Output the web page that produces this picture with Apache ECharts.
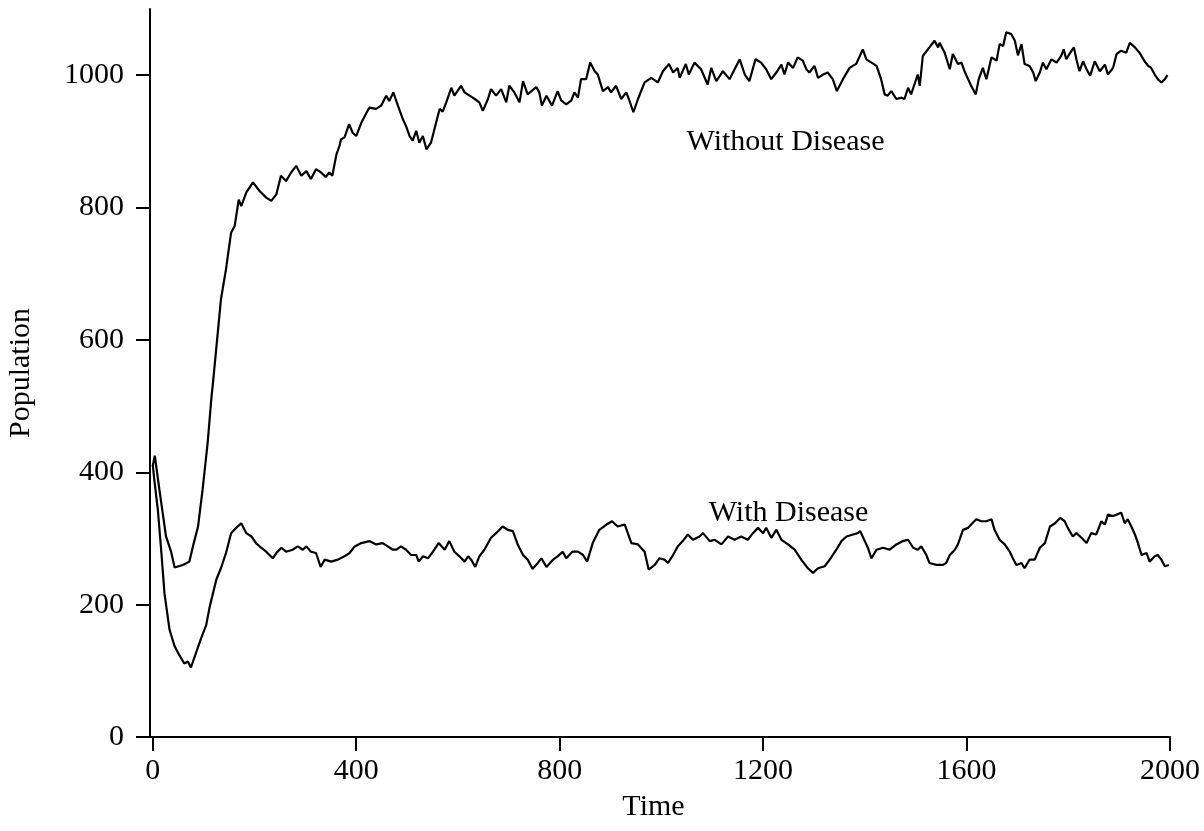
<!DOCTYPE html>
<html>
<head>
<meta charset="utf-8">
<script src="https://cdn.jsdelivr.net/npm/echarts@6/dist/echarts.min.js"></script>
<style>html,body{margin:0;padding:0;background:#fff}#chart{width:1204px;height:831px}</style>
</head>
<body>
<div id="chart"></div>
<script>
// Time ticks and population ticks
const xTicks = [0, 400, 800, 1200, 1600, 2000];
const yTicks = [0, 200, 400, 600, 800, 1000];

// [time, population] — population without disease
const withoutDisease = [
[0,410],[4,425],[13,374],[26,303],[36,280],[43,256],[59,260],[72,265],[79,288],[89,318],[98,374],[108,445],[115,510],[119,540],[134,661],[144,707],[154,762],[161,772],[169,812],[174,802],[184,823],[197,838],[210,825],[223,815],[233,810],[243,820],[252,848],[262,840],[272,853],[282,863],[292,848],[302,855],[311,843],[321,858],[331,853],[340,846],[347,853],[353,848],[361,880],[367,893],[370,903],[377,906],[386,926],[393,913],[400,908],[410,928],[420,943],[426,951],[439,949],[449,954],[459,969],[465,961],[473,974],[482,954],[492,933],[498,923],[505,908],[511,901],[518,916],[524,898],[531,908],[538,888],[547,898],[557,928],[564,949],[570,945],[577,959],[587,981],[593,969],[606,984],[613,974],[623,969],[633,964],[642,959],[649,946],[659,964],[665,979],[675,969],[685,979],[695,959],[701,984],[711,974],[721,959],[728,991],[737,971],[754,982],[760,974],[765,954],[774,969],[785,954],[796,976],[803,962],[813,956],[823,962],[829,974],[836,966],[842,994],[852,994],[860,1019],[869,1006],[875,1001],[885,976],[895,982],[901,974],[911,984],[921,964],[931,974],[936,964],[945,944],[954,964],[967,989],[980,996],[993,989],[1003,1006],[1015,1017],[1023,1004],[1032,1011],[1036,996],[1048,1017],[1054,1001],[1065,1019],[1078,1009],[1091,986],[1098,1011],[1108,991],[1121,1006],[1134,994],[1144,1009],[1154,1024],[1164,1001],[1173,991],[1185,1024],[1196,1019],[1206,1009],[1216,994],[1226,1004],[1236,1016],[1242,1001],[1249,1019],[1259,1011],[1268,1027],[1278,1022],[1285,1009],[1291,1004],[1301,1014],[1308,996],[1318,1001],[1327,1004],[1337,994],[1345,976],[1357,994],[1370,1011],[1383,1017],[1396,1039],[1403,1024],[1413,1019],[1423,1014],[1432,994],[1439,971],[1445,969],[1452,976],[1462,964],[1472,966],[1478,964],[1485,981],[1491,971],[1504,1001],[1508,984],[1514,1029],[1524,1039],[1537,1052],[1544,1042],[1547,1049],[1557,1034],[1567,1009],[1573,1032],[1583,1017],[1590,1019],[1596,1006],[1603,994],[1609,984],[1618,971],[1624,994],[1632,1011],[1639,994],[1649,1027],[1659,1022],[1665,1047],[1672,1044],[1678,1065],[1688,1062],[1695,1052],[1701,1030],[1708,1047],[1714,1017],[1724,1014],[1731,1004],[1736,991],[1744,1004],[1750,1019],[1757,1009],[1767,1024],[1777,1019],[1786,1029],[1791,1039],[1796,1024],[1804,1034],[1811,1042],[1816,1024],[1822,1006],[1829,1021],[1836,1009],[1843,999],[1852,1021],[1862,1006],[1872,1016],[1878,1001],[1888,1011],[1895,1032],[1904,1037],[1914,1034],[1921,1049],[1931,1042],[1940,1034],[1950,1021],[1957,1014],[1963,1011],[1970,1001],[1976,994],[1983,989],[1990,994],[1995,1000]
];

// [time, population] — population with disease
const withDisease = [
[0,411],[3,389],[10,343],[17,278],[23,217],[33,162],[43,137],[52,124],[62,111],[69,114],[75,105],[85,127],[95,149],[105,169],[112,197],[125,238],[134,255],[144,278],[154,308],[164,316],[174,323],[184,308],[194,303],[203,293],[213,286],[223,280],[236,270],[243,278],[253,286],[262,280],[275,283],[285,288],[295,283],[302,288],[311,280],[321,278],[330,257],[338,268],[351,265],[364,268],[377,273],[387,278],[397,288],[410,293],[426,296],[439,291],[452,293],[462,288],[472,283],[479,283],[488,288],[498,283],[508,275],[518,275],[523,265],[531,273],[541,270],[551,280],[562,293],[574,283],[583,296],[593,280],[603,273],[613,265],[620,273],[626,268],[634,257],[642,273],[652,283],[665,301],[675,308],[688,318],[698,313],[708,311],[718,290],[728,275],[737,268],[747,254],[757,263],[764,270],[774,257],[787,268],[796,273],[806,280],[813,270],[825,280],[836,280],[846,275],[854,265],[865,293],[878,313],[892,321],[903,326],[914,318],[928,321],[934,308],[941,293],[954,291],[967,280],[975,253],[987,260],[996,270],[1006,268],[1013,263],[1023,275],[1032,288],[1042,296],[1052,306],[1062,298],[1075,303],[1082,308],[1095,296],[1105,298],[1118,291],[1131,303],[1144,298],[1157,303],[1170,298],[1180,308],[1190,316],[1200,308],[1206,316],[1216,301],[1226,313],[1236,298],[1249,291],[1262,283],[1275,268],[1288,255],[1298,248],[1308,255],[1321,258],[1331,268],[1344,283],[1354,296],[1364,303],[1377,306],[1386,308],[1391,311],[1400,296],[1406,286],[1413,270],[1423,283],[1436,286],[1449,283],[1462,291],[1475,296],[1485,298],[1495,286],[1504,283],[1511,288],[1521,275],[1527,263],[1541,260],[1554,260],[1560,263],[1567,275],[1577,283],[1583,291],[1593,313],[1603,316],[1609,321],[1619,329],[1629,326],[1639,326],[1649,329],[1655,313],[1665,298],[1675,291],[1685,280],[1691,270],[1698,260],[1708,263],[1714,255],[1724,268],[1734,268],[1744,286],[1754,293],[1764,318],[1774,323],[1784,331],[1793,326],[1799,316],[1809,303],[1816,308],[1826,301],[1836,293],[1845,308],[1855,306],[1865,326],[1872,321],[1878,336],[1888,334],[1895,336],[1904,339],[1911,323],[1917,329],[1924,318],[1931,306],[1937,293],[1944,275],[1954,278],[1960,265],[1970,273],[1976,275],[1983,268],[1990,258],[1998,260]
];

// annotation text anchored in data coords
const annWithout = { text: 'Without Disease', t: 1244, v: 899 };
const annWith = { text: 'With Disease', t: 1250, v: 339 };

const FONT = 'Liberation Serif';
const FS = 30;

const chart = echarts.init(document.getElementById('chart'), null, { renderer: 'canvas' });
const lineSeries = (name, data, ann) => ({
  name, type: 'line', data, showSymbol: false, symbol: 'none', smooth: false,
  lineStyle: { color: '#000', width: 2.2 }, animation: false,
  markPoint: {
    symbol: 'circle', symbolSize: 0, animation: false,
    label: { show: true, position: 'inside', formatter: ann.text, color: '#000', fontFamily: FONT, fontSize: FS },
    data: [{ coord: [ann.t, ann.v], name: ann.text }]
  }
});

chart.setOption({
  backgroundColor: '#fff',
  animation: false,
  grid: { left: 137, right: 34, top: 9, bottom: 94, containLabel: false, outerBoundsMode: 'none' },
  xAxis: {
    type: 'value', min: -31, max: 2000,
    name: 'Time', nameLocation: 'middle', nameGap: 55,
    nameTextStyle: { fontFamily: FONT, fontSize: FS, color: '#000' },
    axisLine: { onZero: false, lineStyle: { color: '#000', width: 2 } },
    axisTick: { show: true, length: 14, inside: false, customValues: xTicks, lineStyle: { color: '#000', width: 2 } },
    axisLabel: { customValues: xTicks, margin: 19, fontFamily: FONT, fontSize: FS, color: '#000', formatter: v => String(v) },
    splitLine: { show: false }
  },
  yAxis: {
    type: 'value', min: 0, max: 1100, offset: -13,
    name: 'Population', nameLocation: 'middle', nameGap: 114, nameRotate: 90,
    nameTextStyle: { fontFamily: FONT, fontSize: FS, color: '#000' },
    axisLine: { show: true, onZero: false, lineStyle: { color: '#000', width: 2 } },
    axisTick: { show: true, length: 14, inside: false, customValues: yTicks, lineStyle: { color: '#000', width: 2 } },
    axisLabel: { customValues: yTicks, margin: 26, fontFamily: FONT, fontSize: FS, color: '#000', formatter: v => String(v) },
    splitLine: { show: false }
  },
  series: [
    lineSeries('Without Disease', withoutDisease, annWithout),
    lineSeries('With Disease', withDisease, annWith)
  ]
});
</script>
</body>
</html>
